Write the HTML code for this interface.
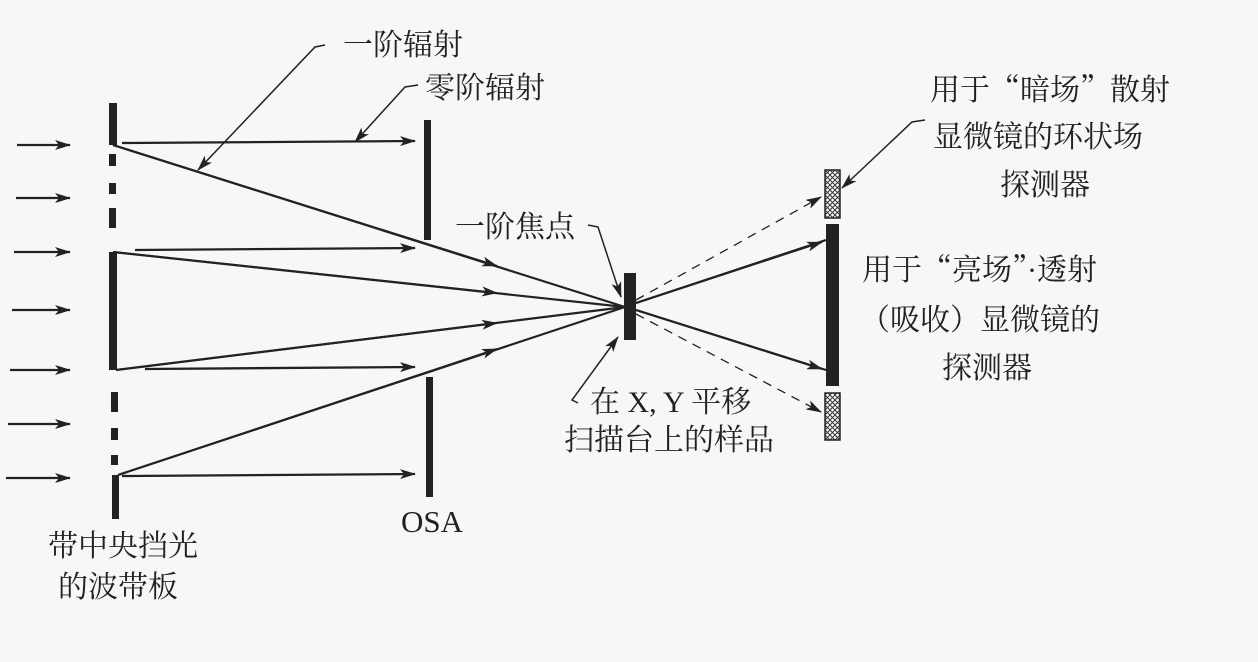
<!DOCTYPE html>
<html><head><meta charset="utf-8"><style>
html,body{margin:0;padding:0;background:#f7f7f5;}
svg{display:block;}
text{font-family:"Liberation Serif","Noto Serif CJK SC",serif;font-size:30px;fill:#222;}
.cj{font-family:"Noto Serif CJK SC",serif;}
</style></head><body>
<svg width="1258" height="662" viewBox="0 0 1258 662" xmlns="http://www.w3.org/2000/svg">
<defs>
<marker id="a" viewBox="0 0 16 10" refX="15" refY="5" markerWidth="16" markerHeight="10" markerUnits="userSpaceOnUse" orient="auto">
<path d="M0,0 L16,5 L0,10 L4,5 Z" fill="#222"/></marker>
<pattern id="h" width="5" height="5" patternUnits="userSpaceOnUse">
<rect width="5" height="5" fill="#fff"/><path d="M0,0L5,5M5,0L0,5" stroke="#333" stroke-width="1"/></pattern>
</defs>
<g stroke="#222" stroke-width="2.3" fill="none" marker-end="url(#a)">
<line x1="17" y1="145" x2="70" y2="145"/>
<line x1="16" y1="198" x2="70" y2="198"/>
<line x1="14" y1="252" x2="70" y2="252"/>
<line x1="12" y1="310" x2="70" y2="310"/>
<line x1="10" y1="370" x2="70" y2="370"/>
<line x1="8" y1="424" x2="70" y2="424"/>
<line x1="6" y1="478" x2="70" y2="478"/>
<line x1="122" y1="143" x2="415" y2="141"/>
<line x1="135" y1="250" x2="415" y2="248"/>
<line x1="145" y1="369" x2="415" y2="367"/>
<line x1="122" y1="476" x2="415" y2="474"/>
</g>
<g fill="#222">
<rect x="109" y="103" width="8" height="42"/>
<rect x="109" y="154" width="7" height="12"/>
<rect x="109" y="183" width="7" height="11"/>
<rect x="109" y="208" width="7" height="20"/>
<rect x="109" y="252" width="8" height="118"/>
<rect x="111" y="392" width="7" height="20"/>
<rect x="111" y="428" width="7" height="12"/>
<rect x="111" y="455" width="7" height="10"/>
<rect x="112" y="475" width="7" height="44"/>
<rect x="424" y="120" width="7" height="120"/>
<rect x="426" y="377" width="7" height="120"/>
<rect x="624" y="273" width="12" height="67"/>
<rect x="826" y="224" width="13" height="162"/>
</g>
<rect x="825" y="170" width="15" height="48" fill="url(#h)" stroke="#222" stroke-width="1.5"/>
<rect x="825" y="393" width="15" height="47" fill="url(#h)" stroke="#222" stroke-width="1.5"/>
<g stroke="#222" stroke-width="2.2" fill="none">
<line x1="113" y1="145" x2="625" y2="307"/>
<line x1="113" y1="252" x2="625" y2="307"/>
<line x1="116" y1="370" x2="625" y2="307"/>
<line x1="118" y1="475" x2="625" y2="307"/>
<line x1="636" y1="303" x2="826" y2="240"/>
<line x1="636" y1="310" x2="826" y2="370"/>
</g>
<g stroke="#222" stroke-width="2" fill="none" marker-end="url(#a)">
<line x1="113" y1="145" x2="497" y2="266"/>
<line x1="113" y1="252" x2="497" y2="293"/>
<line x1="116" y1="370" x2="497" y2="323"/>
<line x1="118" y1="475" x2="497" y2="349"/>
<line x1="636" y1="303" x2="822" y2="242"/>
<line x1="636" y1="310" x2="822" y2="369"/>
</g>
<g stroke="#222" stroke-width="1.3" fill="none" stroke-dasharray="9,7" marker-end="url(#a)">
<line x1="636" y1="300" x2="821" y2="197"/>
<line x1="636" y1="314" x2="821" y2="412"/>
</g>
<g stroke="#222" stroke-width="1.5" fill="none" marker-end="url(#a)">
<path d="M325,45 L315,47 L198,170"/>
<path d="M418,85 L405,87 L355,142"/>
<path d="M588,225 L598,227 L621,297"/>
<path d="M578,403 L572,400 L618,337"/>
<path d="M925,120 L912,122 L842,188"/>
</g>
<text x="343" y="55">一阶辐射</text>
<text x="425" y="98">零阶辐射</text>
<text x="455" y="237">一阶焦点</text>
<text x="590" y="412">在 X, Y 平移</text>
<text x="564" y="450">扫描台上的样品</text>
<text x="930" y="100">用于<tspan class="cj">“</tspan>暗场<tspan class="cj">”</tspan>散射</text>
<text x="933" y="147">显微镜的环状场</text>
<text x="1000" y="195">探测器</text>
<text x="862" y="280">用于<tspan class="cj">“</tspan>亮场<tspan class="cj">”</tspan>·透射</text>
<text x="860" y="330"><tspan class="cj">（</tspan>吸收<tspan class="cj">）</tspan>显微镜的</text>
<text x="942" y="378">探测器</text>
<text x="401" y="532" style="font-size:31px">OSA</text>
<text x="48" y="556">带中央挡光</text>
<text x="58" y="597">的波带板</text>
</svg>
</body></html>
